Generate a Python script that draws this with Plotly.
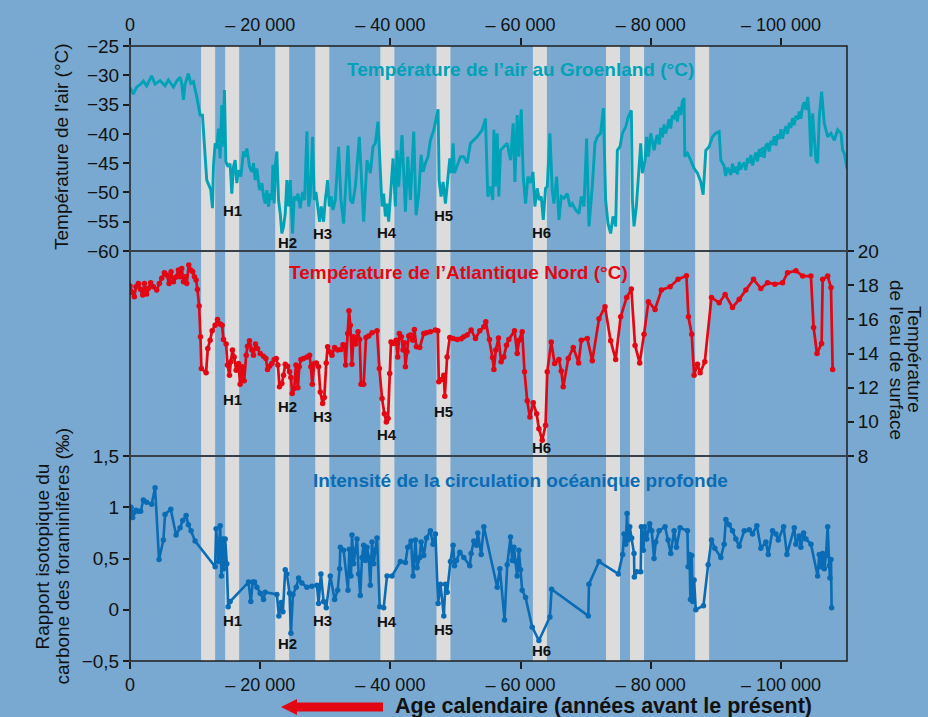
import plotly.graph_objects as go

# ---------------- data (ages in thousands of years before present) ----------------
greenland_age = [
    0.0, 0.51, 1.03, 1.54, 2.05, 2.56, 3.33, 3.85, 4.62, 5.38,
    5.9, 6.67, 7.18, 7.69, 7.95, 8.21, 8.46, 8.97, 9.33, 9.74,
    10.26, 10.77, 11.13, 11.79, 12.21, 12.41, 12.67, 12.82, 13.08, 13.33,
    13.59, 13.85, 14.1, 14.26, 14.51, 14.72, 15.03, 15.38, 15.64, 15.9,
    16.15, 16.41, 16.67, 17.03, 17.44, 17.69, 17.95, 18.36, 18.72, 18.97,
    19.23, 19.49, 19.9, 20.26, 20.51, 20.77, 21.03, 21.28, 21.54, 21.79,
    21.95, 22.15, 22.36, 22.56, 22.82, 23.08, 23.33, 23.59, 23.85, 24.1,
    24.36, 24.62, 24.97, 25.23, 25.54, 25.79, 26.15, 26.51, 26.82, 27.18,
    27.44, 27.69, 28.05, 28.31, 28.56, 28.87, 29.13, 29.38, 29.74, 30.0,
    30.36, 30.62, 30.92, 31.18, 31.54, 32.05, 32.41, 32.82, 33.49, 33.85,
    34.21, 34.62, 35.23, 35.9, 36.41, 36.92, 37.33, 37.69, 38.1, 38.72,
    38.97, 39.23, 39.49, 39.74, 40.0, 40.41, 40.77, 41.03, 41.28, 41.79,
    42.31, 42.67, 43.08, 43.59, 43.95, 44.36, 44.72, 45.03, 45.38, 45.79,
    46.15, 46.67, 47.33, 47.49, 47.79, 48.1, 48.46, 48.72, 49.13, 49.38,
    49.64, 49.85, 50.26, 50.77, 51.28, 51.79, 52.31, 53.33, 54.1, 54.61,
    54.97, 55.38, 55.74, 55.9, 56.15, 56.41, 56.66, 56.92, 57.43, 57.95,
    58.46, 58.87, 59.13, 59.49, 59.74, 60.1, 60.41, 60.77, 61.13, 61.54,
    61.9, 62.2, 62.56, 62.87, 63.18, 63.49, 63.84, 64.1, 64.51, 64.87,
    65.13, 65.54, 65.9, 66.25, 66.66, 67.18, 67.59, 67.95, 68.46, 68.97,
    69.33, 69.74, 70.15, 70.51, 71.02, 71.43, 71.79, 72.3, 72.72, 73.07,
    73.43, 73.84, 74.2, 74.61, 74.87, 75.28, 75.64, 76.15, 76.56, 77.02,
    77.18, 77.43, 77.79, 78.46, 78.71, 79.13, 79.38, 79.64, 79.99, 80.51,
    80.8, 81.02, 81.3, 81.54, 81.8, 82.05, 82.3, 82.56, 82.8, 83.07,
    83.3, 83.59, 83.85, 84.1, 84.35, 84.61, 84.85, 85.12, 85.23, 85.64,
    86.15, 86.66, 87.18, 87.69, 88.05, 88.46, 88.97, 89.48, 90.0, 90.51,
    90.77, 91.28, 91.5, 91.79, 92.05, 92.3, 92.56, 92.82, 93.07, 93.33,
    93.59, 93.84, 94.1, 94.36, 94.61, 94.87, 95.13, 95.38, 95.64, 95.89,
    96.15, 96.41, 96.66, 96.92, 97.18, 97.43, 97.69, 97.95, 98.2, 98.46,
    98.71, 98.97, 99.23, 99.48, 99.74, 100.0, 100.25, 100.51, 100.76, 101.02,
    101.28, 101.53, 101.79, 102.05, 102.3, 102.56, 102.82, 103.07, 103.33, 103.59,
    103.84, 104.1, 104.35, 104.61, 104.87, 105.38, 105.64, 105.89, 106.25, 106.66,
    107.18, 107.69, 108.2, 108.71, 109.23, 109.48, 109.74, 110.15,
]
greenland_temp = [
    -32.1, -33.2, -32.0, -31.6, -31.0, -31.8, -30.1, -31.5, -30.9, -31.8,
    -30.8, -32.0, -31.0, -30.3, -31.4, -34.2, -31.6, -29.7, -31.4, -31.1,
    -33.7, -36.8, -36.8, -47.9, -49.0, -49.6, -52.7, -45.6, -41.6, -42.5,
    -39.1, -44.2, -35.1, -42.2, -32.5, -44.7, -45.6, -45.1, -50.2, -45.6,
    -44.5, -48.4, -46.2, -47.3, -43.0, -43.9, -42.5, -45.6, -46.5, -45.0,
    -47.9, -45.9, -49.6, -48.4, -50.7, -51.9, -49.6, -52.4, -50.2, -51.3,
    -45.3, -51.9, -45.0, -43.0, -51.3, -53.6, -57.0, -55.8, -53.6, -47.9,
    -52.4, -47.9, -57.0, -50.7, -51.3, -50.2, -52.7, -49.9, -51.3, -39.6,
    -52.4, -50.7, -40.5, -51.3, -49.9, -52.4, -55.0, -52.4, -55.0, -51.3,
    -47.9, -52.4, -50.7, -53.0, -51.3, -42.2, -51.3, -55.3, -42.0, -51.3,
    -51.9, -49.0, -40.5, -55.0, -44.5, -46.7, -42.2, -41.6, -37.9, -52.4,
    -50.2, -54.1, -51.9, -55.0, -50.7, -44.2, -52.4, -42.8, -49.0, -40.2,
    -53.3, -43.9, -51.3, -39.6, -53.9, -50.2, -43.6, -46.5, -45.0, -43.9,
    -41.1, -39.3, -35.8, -47.9, -50.7, -48.2, -51.9, -49.0, -44.2, -46.7,
    -41.6, -46.7, -45.6, -43.9, -43.9, -45.0, -41.6, -40.5, -39.3, -37.4,
    -50.7, -49.0, -51.3, -39.3, -49.0, -39.9, -50.7, -42.8, -42.2, -41.6,
    -44.5, -38.2, -48.2, -36.8, -43.9, -35.8, -47.3, -51.9, -47.3, -48.4,
    -46.5, -52.4, -49.3, -51.3, -50.7, -54.7, -49.3, -49.0, -39.9, -49.6,
    -51.9, -47.3, -54.7, -50.7, -51.0, -50.2, -52.4, -51.9, -53.0, -53.6,
    -50.7, -52.4, -40.8, -55.8, -49.0, -41.6, -40.5, -39.9, -35.6, -51.3,
    -55.3, -57.0, -54.1, -55.8, -42.8, -42.2, -39.9, -38.8, -37.1, -36.0,
    -51.3, -55.8, -52.4, -41.6, -46.7, -44.5, -40.5, -43.9, -39.9, -42.8,
    -41.0, -40.2, -41.8, -39.0, -40.6, -38.4, -39.9, -38.9, -37.5, -39.1,
    -36.9, -37.2, -36.1, -37.9, -35.4, -36.8, -34.5, -33.9, -43.9, -43.3,
    -44.5, -45.9, -46.7, -48.2, -50.4, -42.8, -42.2, -40.5, -39.9, -39.6,
    -44.5, -45.5, -47.2, -45.8, -46.3, -47.0, -45.1, -46.6, -45.6, -46.9,
    -44.8, -46.1, -45.3, -44.9, -46.2, -44.1, -45.0, -43.6, -45.4, -44.0,
    -43.2, -44.7, -42.6, -43.9, -42.3, -44.1, -42.0, -41.6, -43.0, -41.2,
    -41.9, -40.4, -42.0, -40.1, -40.9, -39.2, -40.8, -39.6, -38.7, -40.0,
    -38.1, -39.0, -37.3, -38.5, -36.9, -37.6, -36.2, -37.4, -35.3, -34.6,
    -35.9, -33.7, -36.5, -43.9, -36.5, -44.5, -45.0, -37.1, -32.8, -38.2,
    -40.5, -39.9, -41.1, -39.3, -39.9, -42.8, -43.3, -45.9,
]

atlantic_age = [
    0.0, 0.41, 0.67, 0.92, 1.28, 1.64, 1.95, 2.21, 2.56, 2.82,
    3.18, 3.59, 4.1, 4.51, 4.87, 5.28, 5.64, 6.0, 6.31, 6.67,
    7.03, 7.44, 7.69, 7.95, 8.21, 8.46, 8.72, 9.03, 9.33, 9.64,
    9.9, 10.15, 10.36, 10.62, 10.82, 10.97, 11.69, 11.95, 12.31, 12.62,
    13.08, 13.44, 13.85, 14.15, 14.36, 14.77, 14.97, 15.28, 15.49, 15.74,
    16.0, 16.31, 16.67, 16.92, 17.23, 17.54, 17.85, 18.05, 18.36, 18.72,
    18.97, 19.28, 19.59, 20.0, 20.51, 20.87, 21.13, 21.44, 21.79, 22.15,
    22.46, 22.72, 22.97, 23.33, 23.59, 23.85, 24.21, 24.51, 24.72, 24.92,
    25.23, 25.49, 25.79, 26.0, 26.26, 26.67, 27.18, 27.59, 27.79, 28.0,
    28.31, 28.62, 28.97, 29.23, 29.59, 29.85, 30.15, 30.36, 30.67, 31.03,
    31.44, 31.9, 32.41, 32.72, 32.92, 33.13, 33.44, 33.64, 33.85, 34.1,
    34.36, 34.67, 35.03, 35.28, 35.49, 35.9, 36.26, 36.67, 37.18, 37.95,
    38.31, 38.72, 39.08, 39.38, 39.64, 39.9, 40.1, 40.51, 40.87, 41.13,
    41.38, 41.69, 41.95, 42.15, 42.31, 42.56, 42.82, 43.08, 43.44, 43.69,
    44.0, 44.51, 45.13, 45.54, 46.15, 46.92, 47.28, 47.44, 47.85, 48.21,
    48.36, 48.72, 49.13, 49.64, 50.26, 50.87, 51.28, 51.79, 52.41, 53.07,
    53.74, 54.36, 54.66, 55.23, 55.69, 55.9, 56.2, 56.61, 57.02, 57.43,
    57.84, 58.2, 59.07, 59.48, 59.79, 60.25, 60.61, 61.02, 61.43, 61.95,
    62.46, 62.82, 63.33, 63.84, 64.1, 64.72, 65.23, 65.9, 66.25, 66.56,
    67.33, 68.1, 68.92, 69.33, 70.25, 71.02, 72.05, 72.97, 73.84, 74.61,
    75.38, 76.3, 77.02, 77.59, 78.3, 78.97, 79.64, 80.66, 81.64, 82.97,
    84.2, 85.48, 85.79, 86.3, 86.66, 87.18, 87.59, 88.3, 89.33, 90.51,
    91.43, 92.56, 93.59, 94.61, 95.79, 96.92, 97.95, 99.07, 100.25, 101.02,
    102.3, 103.33, 104.61, 105.02, 105.54, 106.25, 106.41, 107.18, 107.69, 107.95,
]
atlantic_temp = [
    17.95, 17.56, 17.32, 17.91, 18.1, 17.75, 17.42, 18.1, 17.48, 17.81,
    18.14, 17.91, 17.71, 18.1, 18.4, 18.73, 18.59, 18.1, 18.79, 18.2,
    18.46, 18.89, 18.5, 18.98, 18.2, 18.5, 18.1, 19.18, 18.89, 18.79,
    18.5, 18.3, 17.75, 16.78, 14.98, 13.12, 12.87, 14.29, 14.78, 15.33,
    15.66, 15.99, 15.72, 15.66, 14.82, 14.55, 13.32, 12.73, 13.51, 14.2,
    13.8, 13.02, 13.41, 12.2, 13.22, 12.4, 13.9, 14.43, 14.74, 14.2,
    13.9, 14.55, 14.29, 14.0, 13.84, 13.71, 13.06, 13.26, 13.41, 13.65,
    13.71, 13.32, 12.05, 12.24, 12.73, 13.37, 13.26, 12.93, 12.59, 11.66,
    11.95, 13.32, 11.99, 13.22, 13.65, 13.71, 13.8, 13.9, 13.22, 12.2,
    13.41, 13.45, 13.22, 11.75, 11.07, 11.42, 13.45, 14.39, 14.1, 13.9,
    14.35, 14.2, 14.24, 14.51, 14.49, 13.32, 15.17, 16.5, 15.66, 13.37,
    14.98, 14.55, 15.27, 14.82, 12.2, 12.2, 14.94, 15.02, 15.21, 15.33,
    13.12, 11.36, 10.48, 9.99, 10.19, 12.83, 14.68, 14.59, 14.78, 13.8,
    15.17, 14.98, 14.2, 14.63, 13.22, 14.1, 15.02, 15.08, 14.78, 15.41,
    14.39, 14.35, 15.17, 15.21, 15.27, 15.37, 15.33, 12.34, 12.48, 12.73,
    11.5, 13.8, 14.94, 14.88, 14.82, 14.86, 14.98, 15.08, 15.37, 14.88,
    15.33, 15.56, 15.86, 14.82, 13.77, 13.06, 14.2, 14.9, 13.51, 13.8,
    14.49, 14.82, 15.33, 14.0, 14.78, 15.27, 12.93, 11.23, 10.29, 11.11,
    10.48, 9.6, 8.92, 9.8, 12.93, 14.68, 13.41, 13.65, 12.98, 12.05,
    13.71, 14.35, 13.45, 14.78, 14.88, 13.57, 16.03, 16.74, 14.74, 13.65,
    16.15, 17.28, 17.77, 14.47, 13.45, 15.13, 17.03, 16.58, 17.71, 17.91,
    18.34, 18.55, 16.15, 15.13, 12.73, 13.37, 12.87, 13.51, 17.28, 16.97,
    17.46, 16.7, 17.17, 17.71, 18.34, 17.81, 18.14, 18.06, 18.14, 18.73,
    18.85, 18.53, 18.53, 15.52, 14.0, 14.59, 18.34, 18.53, 17.87, 13.06,
]

circulation_age = [
    0.15, 0.41, 0.62, 0.92, 1.28, 1.64, 2.05, 2.56, 3.33, 3.85,
    4.46, 5.13, 5.38, 6.26, 7.08, 7.69, 8.1, 8.62, 8.97, 9.38,
    10.0, 13.08, 13.23, 13.59, 13.85, 14.05, 14.26, 14.41, 14.62, 14.87,
    15.08, 15.38, 18.21, 18.56, 18.87, 19.13, 19.49, 20.0, 20.51, 20.77,
    22.56, 22.87, 23.23, 23.49, 23.85, 24.1, 24.51, 24.72, 25.03, 25.54,
    25.9, 26.41, 27.18, 27.95, 28.72, 28.97, 29.33, 29.74, 30.15, 30.77,
    31.44, 31.9, 32.21, 32.31, 32.82, 33.49, 33.69, 33.95, 34.1, 34.36,
    34.62, 34.87, 35.13, 35.38, 35.64, 35.9, 36.15, 36.41, 36.67, 36.92,
    37.18, 37.44, 37.69, 37.95, 38.36, 38.97, 39.49, 40.26, 41.54, 42.31,
    42.67, 43.18, 43.49, 43.85, 44.1, 44.51, 44.72, 45.13, 45.54, 46.15,
    46.56, 46.92, 47.33, 47.69, 48.21, 48.46, 48.72, 49.23, 49.64, 49.85,
    50.15, 50.67, 51.28, 52.2, 52.41, 52.82, 53.23, 53.43, 53.95, 54.36,
    56.41, 56.82, 57.54, 57.95, 58.46, 58.72, 58.97, 59.23, 59.48, 59.74,
    60.0, 60.25, 60.77, 61.79, 62.82, 64.51, 64.77, 70.41, 70.51, 72.05,
    75.02, 75.69, 75.9, 76.15, 76.36, 76.51, 76.77, 77.07, 77.43, 77.48,
    77.84, 78.46, 78.56, 78.87, 79.07, 79.38, 79.84, 80.15, 80.51, 80.77,
    81.28, 82.2, 82.66, 83.07, 83.59, 83.95, 84.51, 85.64, 85.74, 85.95,
    86.1, 86.3, 86.46, 86.66, 86.92, 88.1, 88.82, 89.33, 89.84, 90.77,
    91.28, 91.54, 92.05, 92.56, 93.07, 93.59, 94.36, 95.13, 95.64, 96.3,
    96.92, 97.69, 98.05, 98.71, 99.23, 99.59, 100.41, 100.92, 102.05, 102.3,
    102.82, 103.07, 103.48, 103.84, 104.61, 105.64, 105.89, 106.15, 106.41, 106.66,
    106.92, 107.18, 107.43, 107.53, 107.69, 107.79,
]
circulation_value = [
    1.0, 0.9, 0.95, 0.97, 0.96, 0.96, 1.07, 1.05, 1.03, 1.19,
    0.49, 0.68, 0.93, 0.98, 0.73, 0.8, 0.87, 0.92, 0.83, 0.77,
    0.67, 0.42, 0.79, 0.47, 0.82, 0.33, 0.69, 0.4, 0.69, 0.45,
    0.03, 0.08, 0.27, 0.08, 0.27, 0.27, 0.22, 0.16, 0.1, 0.17,
    0.15, -0.06, 0.07, -0.02, 0.39, 0.35, 0.16, -0.23, 0.15, 0.22,
    0.31, 0.26, 0.22, 0.23, 0.24, 0.06, 0.35, 0.08, 0.02, 0.33,
    0.1, 0.19, 0.4, 0.61, 0.58, 0.19, 0.59, 0.33, 0.73, 0.45,
    0.58, 0.69, 0.35, 0.14, 0.51, 0.63, 0.48, 0.61, 0.51, 0.24,
    0.66, 0.45, 0.58, 0.7, 0.03, 0.02, 0.33, 0.33, 0.47, 0.46,
    0.61, 0.67, 0.33, 0.68, 0.41, 0.51, 0.66, 0.53, 0.7, 0.77,
    0.64, 0.74, 0.06, 0.25, -0.06, 0.25, 0.17, 0.47, 0.63, 0.43,
    0.48, 0.56, 0.51, 0.43, 0.55, 0.67, 0.63, 0.75, 0.54, 0.81,
    0.22, 0.4, -0.1, 0.44, 0.71, 0.48, 0.61, 0.47, 0.33, 0.58,
    0.39, 0.19, 0.12, -0.17, -0.3, -0.07, 0.2, -0.06, 0.25, 0.47,
    0.35, 0.54, 0.74, 0.64, 0.94, 0.68, 0.81, 0.7, 0.55, 0.32,
    0.37, 0.37, 0.81, 0.58, 0.81, 0.69, 0.84, 0.77, 0.5, 0.66,
    0.77, 0.81, 0.68, 0.55, 0.77, 0.61, 0.8, 0.77, 0.42, 0.54,
    0.1, 0.53, 0.08, 0.29, 0.0, 0.04, 0.44, 0.68, 0.6, 0.51,
    0.64, 0.88, 0.83, 0.77, 0.69, 0.62, 0.77, 0.78, 0.74, 0.82,
    0.6, 0.66, 0.54, 0.77, 0.74, 0.68, 0.81, 0.54, 0.8, 0.64,
    0.72, 0.61, 0.75, 0.69, 0.64, 0.33, 0.54, 0.42, 0.55, 0.4,
    0.53, 0.81, 0.43, 0.31, 0.49, 0.02,
]

# Heinrich-type cold intervals (grey bands), kyr
band_start = [10.92, 14.62, 22.31, 28.46, 38.46, 47.08, 61.90, 73.13, 76.82, 86.82]
band_end = [13.08, 16.77, 24.46, 30.62, 40.62, 49.23, 64.05, 75.28, 78.97, 88.97]

# H event labels
h_labels = ["H1", "H2", "H3", "H4", "H5", "H6"]
h_age = [15.74, 24.2, 29.5, 39.5, 48.1, 63.23]
h_y_greenland = [-53.0, -58.6, -57.0, -56.8, -54.0, -56.8]
h_y_atlantic = [11.33, 10.87, 10.34, 9.23, 10.63, 8.47]
h_y_circulation = [-0.10, -0.33, -0.10, -0.11, -0.19, -0.40]

x_tickvals = [0, 20, 40, 60, 80, 100]
x_ticktext = ["0", "\u2013 20 000", "\u2013 40 000", "\u2013 60 000", "\u2013 80 000", "\u2013 100 000"]

# ---------------- style ----------------
BG = "#79a9d0"
BAND = "#dcdcdc"
TEAL = "#00a2b8"
RED = "#e30613"
BLUE = "#0a6cb5"
AX = "#1e1e1e"
FONT = "Liberation Sans, Arial, Helvetica, sans-serif"

fig = go.Figure()
fig.add_trace(go.Scatter(x=greenland_age, y=greenland_temp, mode="lines",
                         line=dict(color=TEAL, width=2.9), xaxis="x2", yaxis="y"))
fig.add_trace(go.Scatter(x=atlantic_age, y=atlantic_temp, mode="lines+markers",
                         line=dict(color=RED, width=2.7), marker=dict(color=RED, size=5.5),
                         xaxis="x", yaxis="y2"))
fig.add_trace(go.Scatter(x=circulation_age, y=circulation_value, mode="lines+markers",
                         line=dict(color=BLUE, width=2.6), marker=dict(color=BLUE, size=5.5),
                         xaxis="x", yaxis="y3"))

XMAX = 110.15
common_x = dict(range=[0, XMAX], tickvals=x_tickvals, ticktext=x_ticktext, ticks="outside",
                ticklen=7, tickwidth=1.5, tickcolor=AX, showgrid=False, zeroline=False,
                showline=False, tickfont=dict(size=18, color="#111"))
common_y = dict(ticks="outside", ticklen=6, tickwidth=1.5, tickcolor=AX, showgrid=False,
                zeroline=False, showline=False, tickfont=dict(size=19, color="#111"))

shapes = []
for s, e in zip(band_start, band_end):
    shapes.append(dict(type="rect", xref="x", yref="paper", x0=s, x1=e, y0=0, y1=1,
                       fillcolor=BAND, line=dict(width=0), layer="below"))
shapes.append(dict(type="rect", xref="paper", yref="paper", x0=0, x1=1, y0=0, y1=1,
                   line=dict(color=AX, width=1.5), layer="above"))
for yy in (1 / 3, 2 / 3):
    shapes.append(dict(type="line", xref="paper", yref="paper", x0=0, x1=1, y0=yy, y1=yy,
                       line=dict(color="#37414b", width=2), layer="above"))
# red arrow next to the x-axis title
shapes.append(dict(type="path", xref="paper", yref="paper", fillcolor=RED, line=dict(width=0),
                   path="M 0.2106,-0.0748 L 0.2329,-0.0618 L 0.2329,-0.0675 L 0.3529,-0.0675 "
                        "L 0.3529,-0.0821 L 0.2329,-0.0821 L 0.2329,-0.0878 Z"))


def note(text, x, y, size=19, color="#111", angle=0, xanchor="center"):
    return dict(text=text, xref="paper", yref="paper", x=x, y=y, textangle=angle,
                xanchor=xanchor, yanchor="middle", showarrow=False,
                font=dict(size=size, color=color))


annotations = [
    note("<b>Température de l’air au Groenland (°C)</b>", 0.544, 0.9626, 19, TEAL),
    note("<b>Température de l’Atlantique Nord (°C)</b>", 0.4575, 0.6325, 19, RED),
    note("<b>Intensité de la circulation océanique profonde</b>", 0.5453, 0.2943, 19, BLUE),
    note("Température de l'air (°C)", -0.0948, 0.8358, angle=-90),
    note("Rapport isotopique du", -0.1227, 0.170, angle=-90),
    note("carbone des foraminifères (‰)", -0.0948, 0.170, angle=-90),
    note("Température", 1.0948, 0.4894, angle=90),
    note("de l'eau de surface", 1.0697, 0.4894, angle=90),
    note("<b>Age calendaire (années avant le présent)</b>", 0.3668, -0.073, 21.5, xanchor="left"),
]
for lab, a, y1, y2, y3 in zip(h_labels, h_age, h_y_greenland, h_y_atlantic, h_y_circulation):
    for xref, yref, yv in (("x2", "y", y1), ("x", "y2", y2), ("x", "y3", y3)):
        annotations.append(dict(text=f"<b>{lab}</b>", x=a, y=yv, xref=xref, yref=yref,
                                xanchor="center", yanchor="middle",
                                showarrow=False, font=dict(size=15, color="#111")))

fig.update_layout(
    width=928, height=717,
    margin=dict(l=130, r=81, t=46, b=56),
    paper_bgcolor=BG, plot_bgcolor=BG,
    showlegend=False,
    separators=", ",
    font=dict(family=FONT, size=18, color="#111"),
    xaxis=dict(domain=[0, 1], anchor="y3", **common_x),
    xaxis2=dict(overlaying="x", side="top", anchor="y", **common_x),
    yaxis=dict(domain=[2 / 3, 1], range=[-60, -25], dtick=5, tick0=-60, anchor="x2", **common_y),
    yaxis2=dict(domain=[1 / 3, 2 / 3], range=[8, 20], dtick=2, tick0=8, side="right",
                anchor="x", **common_y),
    yaxis3=dict(domain=[0, 1 / 3], range=[-0.5, 1.5], dtick=0.5, tick0=-0.5, anchor="x",
                **common_y),
    shapes=shapes,
    annotations=annotations,
)

fig.write_html("out.html", config={"displayModeBar": False},
               post_script="document.body.style.margin='0';")
